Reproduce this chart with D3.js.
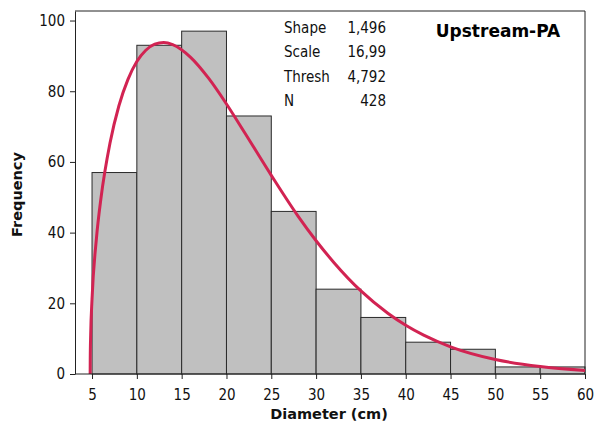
<!DOCTYPE html>
<html>
<head>
<meta charset="utf-8">
<script src="https://cdn.jsdelivr.net/npm/d3@7"></script>
<style>
  body { margin: 0; background: #fff; }
  svg { display: block; }
</style>
</head>
<body>
<div id='chart'></div>
<script>

// Data
const binEdges = [5, 10, 15, 20, 25, 30, 35, 40, 45, 50, 55, 60];
const counts = [57, 93, 97, 73, 46, 24, 16, 9, 7, 2, 2];

// fitted curve, read point by point
const curveX = [4.792, 4.8, 4.85, 5, 5.5, 6, 7, 8, 9, 10, 11, 12, 13, 14, 16, 18, 20, 22, 25, 28, 30, 32, 35, 38, 40, 42, 45, 50, 55, 60];
const curveY = [0, 4.2, 11.2, 21.2, 38.6, 49.8, 65.3, 75.9, 83.3, 88.4, 91.6, 93.3, 93.8, 93.2, 89.6, 83.7, 76.4, 68.4, 56.2, 44.6, 37.7, 31.5, 23.5, 17.2, 13.8, 11.0, 7.7, 4.1, 2.1, 1.0];

const statLabels = ['Shape', 'Scale', 'Thresh', 'N'];
const statValues = ['1,496', '16,99', '4,792', '428'];
const xTicks = [5, 10, 15, 20, 25, 30, 35, 40, 45, 50, 55, 60];
const yTicks = [0, 20, 40, 60, 80, 100];

// Page dimensions
const W = 594, H = 426;
const plot = {left: 75, right: 585, top: 11, bottom: 374};
const font_family = '"DejaVu Sans Condensed", "DejaVu Sans", sans-serif';
const bold_family = '"DejaVu Sans", Verdana, sans-serif';

const svg = d3.select('div#chart').append('svg')
  .attr('width', W)
  .attr('height', H);

const x = d3.scaleLinear().domain([3.1, 60]).range([plot.left, plot.right]);
const y = d3.scaleLinear().domain([0, 102.7]).range([plot.bottom, plot.top]);

svg.append('clipPath').attr('id', 'clip')
  .append('rect')
  .attr('x', plot.left).attr('y', plot.top)
  .attr('width', plot.right - plot.left).attr('height', plot.bottom - plot.top);

// Bars
svg.append('g')
  .selectAll('rect')
  .data(counts)
  .enter()
  .append('rect')
  .attr('x', (d, i) => x(binEdges[i]))
  .attr('y', d => y(d))
  .attr('width', (d, i) => x(binEdges[i + 1]) - x(binEdges[i]))
  .attr('height', d => y(0) - y(d))
  .style('fill', '#c0c0c0')
  .style('stroke', '#2a2a2a')
  .style('stroke-width', 1);

// Frame (top + right)
svg.append('path')
  .attr('d', `M${plot.left},${plot.top}H${plot.right}V${plot.bottom}`)
  .style('fill', 'none')
  .style('stroke', '#222')
  .style('stroke-width', 1);

// Fitted curve
const line = d3.line()
  .x((d, i) => x(curveX[i]))
  .y(d => y(d))
  .curve(d3.curveMonotoneX);

svg.append('path')
  .datum(curveY)
  .attr('clip-path', 'url(#clip)')
  .attr('d', line)
  .style('fill', 'none')
  .style('stroke', '#d22352')
  .style('stroke-width', 3);

// Axes
const xAxis = svg.append('g')
  .attr('transform', `translate(0,${plot.bottom})`)
  .call(d3.axisBottom(x).tickValues(xTicks).tickSize(5).tickSizeOuter(0));

const yAxis = svg.append('g')
  .attr('transform', `translate(${plot.left},0)`)
  .call(d3.axisLeft(y).tickValues(yTicks).tickSize(5).tickSizeOuter(0));

[xAxis, yAxis].forEach(a => {
  a.select('.domain').style('stroke', '#222');
  a.selectAll('.tick line').style('stroke', '#222');
  a.selectAll('.tick text')
    .attr('font-family', font_family)
    .attr('font-size', '15px')
    .attr('fill', '#111');
});
xAxis.select('.domain').attr('d', `M${plot.left},0H${plot.right}`);
xAxis.selectAll('.tick text').attr('dy', '1.2em');
yAxis.selectAll('.tick text').attr('x', -10);

// Axis titles
svg.append('text')
  .text('Diameter (cm)')
  .attr('x', 329)
  .attr('y', 419)
  .attr('text-anchor', 'middle')
  .attr('font-family', bold_family)
  .attr('font-weight', 'bold')
  .attr('font-size', '14.5px')
  .attr('fill', '#111');

svg.append('text')
  .text('Frequency')
  .attr('transform', `translate(22,${(plot.top + plot.bottom) / 2 + 2}) rotate(-90)`)
  .attr('text-anchor', 'middle')
  .attr('font-family', bold_family)
  .attr('font-weight', 'bold')
  .attr('font-size', '14.5px')
  .attr('fill', '#111');

// Stats box
const stats = svg.append('g');
statLabels.forEach((s, i) => {
  stats.append('text')
    .text(s)
    .attr('x', 284)
    .attr('y', 33 + i * 24.3)
    .attr('font-family', font_family)
    .attr('font-size', '15px')
    .attr('fill', '#111');
  stats.append('text')
    .text(statValues[i])
    .attr('x', 386)
    .attr('y', 33 + i * 24.3)
    .attr('text-anchor', 'end')
    .attr('font-family', font_family)
    .attr('font-size', '15px')
    .attr('fill', '#111');
});

svg.append('text')
  .text('Upstream-PA')
  .attr('x', 498)
  .attr('y', 37)
  .attr('text-anchor', 'middle')
  .attr('font-family', bold_family)
  .attr('font-weight', 'bold')
  .attr('font-size', '17px')
  .attr('fill', '#000');

</script>
</body>
</html>
